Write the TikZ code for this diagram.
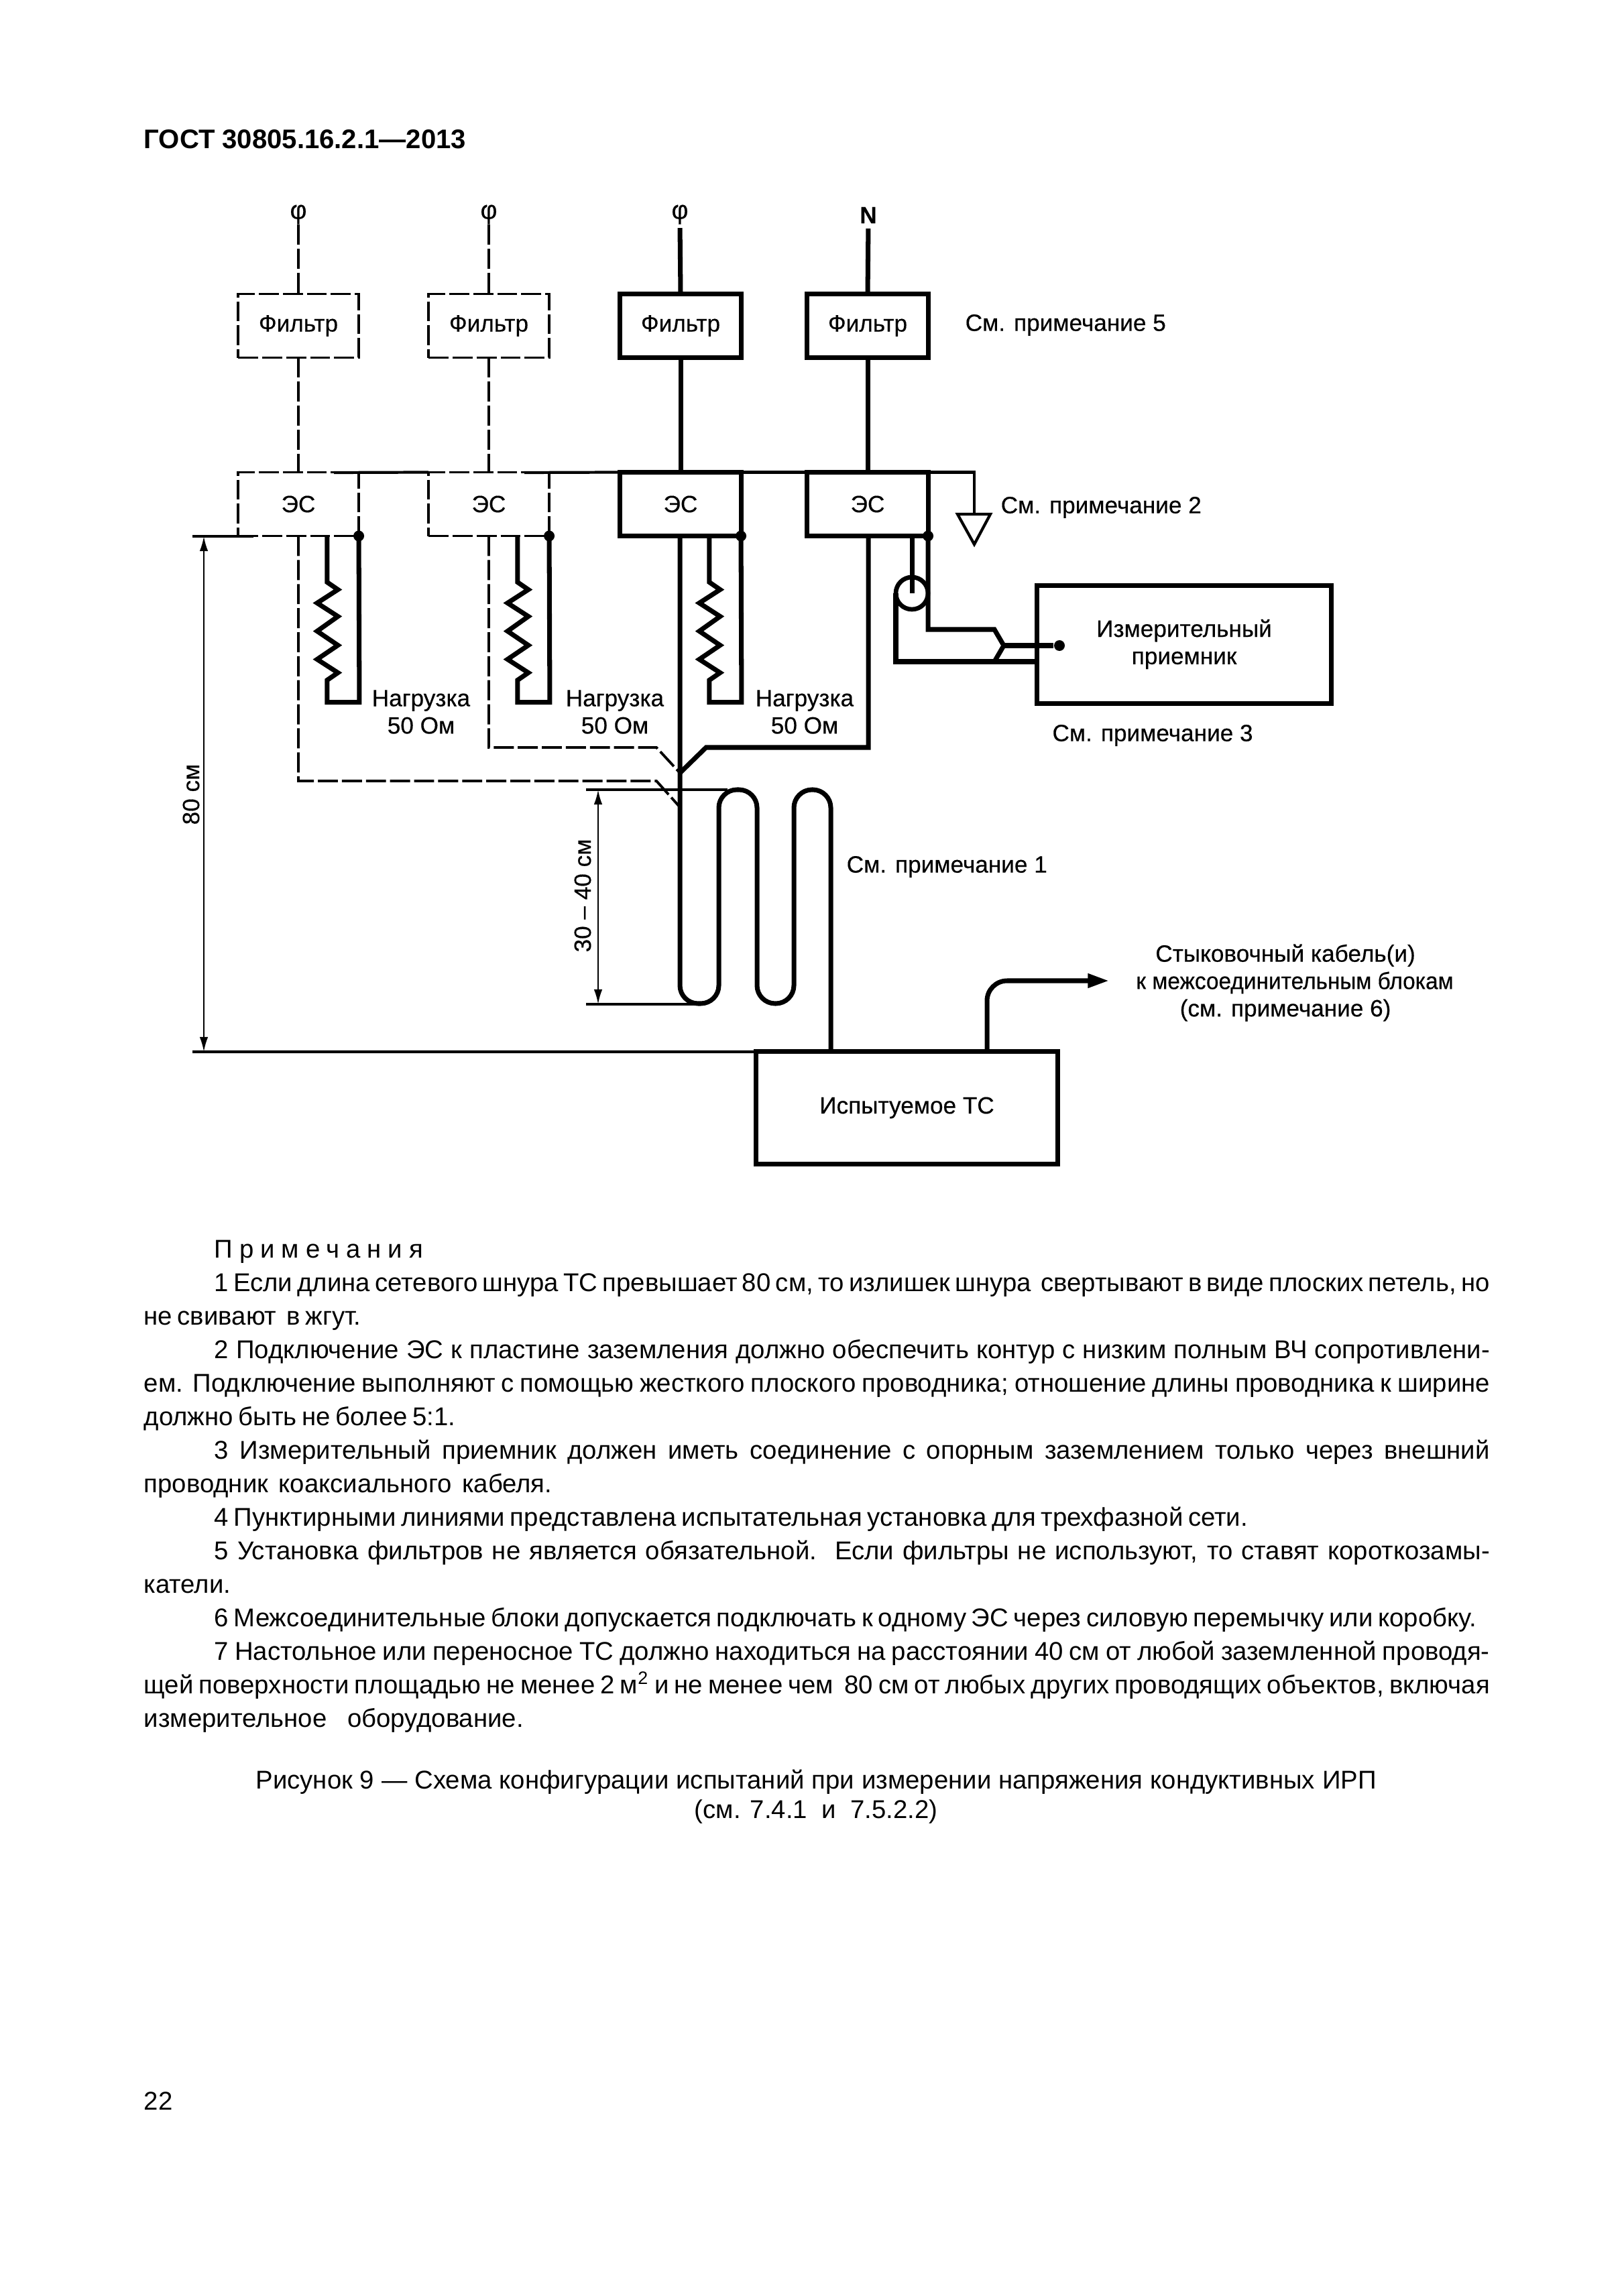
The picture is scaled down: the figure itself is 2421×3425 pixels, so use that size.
\documentclass[tikz,border=0pt]{standalone}
\usepackage{fontspec}
\setmainfont{Liberation Sans}
\newfontfamily\labfont{Liberation Sans}[FakeBold=0.4]
\usetikzlibrary{arrows.meta, positioning, calc}

\tikzset{
  box/.style={draw, rectangle, line width=2pt, outer sep=0pt, inner sep=0pt,
    minimum width=1.8cm, minimum height=0.95cm, font=\lab},
  dashbox/.style={box, line width=1.1pt, dash pattern=on 8.5pt off 1.7pt},
  wire/.style={line width=2pt},
  thinwire/.style={line width=1.2pt},
  dashwire/.style={line width=1.1pt, dash pattern=on 8.5pt off 1.7pt},
  dimline/.style={line width=0.7pt, {Latex[length=6.3pt,width=3.6pt]}-{Latex[length=6.3pt,width=3.6pt]}},
  dotmark/.style={circle, fill=black, inner sep=0pt, minimum size=0.16cm},
  labeltext/.style={inner sep=0pt, align=center, font=\lab},
  phase/.style={inner sep=0pt, font=\labfont\fontsize{11}{11}\selectfont}
}
\newcommand{\lab}{\labfont\fontsize{10}{11.6}\selectfont}
\newcommand{\notepar}{\par\hspace*{1.05cm}}

\begin{document}
\begin{tikzpicture}[x=0.01cm, y=-0.01cm]
  \useasboundingbox (0,0) rectangle (2421,3425);

  \node[inner sep=0pt, anchor=west, font=\fontsize{11.4}{14}\selectfont\bfseries] (header) at (214,208) {ГОСТ 30805.16.2.1—2013};

  % filters
  \node[dashbox] (filter1) at (445,486) {Фильтр};
  \node[dashbox] (filter2) at (729,486) {Фильтр};
  \node[box] (filter3) at (1015,486) {Фильтр};
  \node[box] (filter4) at (1294,486) {Фильтр};

  % es boxes
  \node[dashbox] (es1) at (445,752) {ЭС};
  \node[dashbox] (es2) at (729,752) {ЭС};
  \node[box] (es3) at (1015,752) {ЭС};
  \node[box] (es4) at (1294,752) {ЭС};

  % inputs
  \node[phase] (phi1) at (445,320) {φ};
  \node[phase] (phi2) at (729,320) {φ};
  \node[phase] (phi3) at (1014,320) {φ};
  \node[labeltext] (neutral) at (1295,321) {\bfseries N};
  \draw[dashwire] (phi1.south) -- (filter1.north);
  \draw[dashwire] (phi2.south) -- (filter2.north);
  \draw[wire, shorten <=0.05cm] (phi3.south) -- (filter3.north);
  \draw[wire, shorten <=0.07cm] (neutral.south) -- (filter4.north);
  \draw[dashwire] (filter1.south) -- (es1.north);
  \draw[dashwire] (filter2.south) -- (es2.north);
  \draw[wire] (filter3.south) -- (es3.north);
  \draw[wire] (filter4.south) -- (es4.north);

  % ground bar
  \coordinate (gnd) at (1453,767);
  \draw[thinwire] (498,705) -- (es2.north west);
  \draw[thinwire] (782,705) -- (es3.north west);
  \draw[thinwire] (es3.north east) -- (es4.north west);
  \draw[thinwire] (es4.north east) -| (gnd);
  \draw[thinwire] (1428,767) -- (1477,767) -- (1453,812) -- cycle;

  % loads
  \draw[wire] (es1.south west) ++(133,0) -- ++(0,69) -- ++(16,11) -- ++(-31,20) -- ++(31,20) -- ++(-31,22)
    -- ++(31,21) -- ++(-31,21) -- ++(31,20) -- ++(-16,11) -- ++(0,33) -- ++(48,0) -- (es1.south east);
  \draw[wire] (es2.south west) ++(133,0) -- ++(0,69) -- ++(16,11) -- ++(-31,20) -- ++(31,20) -- ++(-31,22)
    -- ++(31,21) -- ++(-31,21) -- ++(31,20) -- ++(-16,11) -- ++(0,33) -- ++(48,0) -- (es2.south east);
  \draw[wire] (es3.south west) ++(133,0) -- ++(0,69) -- ++(16,11) -- ++(-31,20) -- ++(31,20) -- ++(-31,22)
    -- ++(31,21) -- ++(-31,21) -- ++(31,20) -- ++(-16,11) -- ++(0,33) -- ++(48,0) -- (es3.south east);
  \node[dotmark] (dot1) at (es1.south east) {};
  \node[dotmark] (dot2) at (es2.south east) {};
  \node[dotmark] (dot3) at (es3.south east) {};
  \node[dotmark] (dot4) at (es4.south east) {};
  \node[labeltext] (load1) at (628,1062) {Нагрузка\\50 Ом};
  \node[labeltext] (load2) at (917,1062) {Нагрузка\\50 Ом};
  \node[labeltext] (load3) at (1200,1062) {Нагрузка\\50 Ом};

  % device under test
  \node[box, minimum width=4.49cm, minimum height=1.67cm] (tc) at (1352.5,1652.5) {Испытуемое ТС};

  % cord with loops
  \coordinate (join1) at (1014,1153);
  \coordinate (join2) at (1014,1204);
  \draw[wire, rounded corners=0.27cm] (es3.south -| 1014,0) -- (1014,1497) -- (1072,1497) -- (1072,1178) -- (1129,1178)
    -- (1129,1497) -- (1184,1497) -- (1184,1178) -- (1239,1178) -- (1239,1178 |- tc.north);
  \draw[wire] (es4.south -| 1295,0) |- (1053,1115) -- (join1);
  \draw[dashwire] (es2.south) |- (979,1115) -- (join1);
  \draw[dashwire] (es1.south) |- (979,1165) -- (join2);

  % receiver
  \node[box, minimum width=4.38cm, minimum height=1.75cm] (rcv) at (1766,961.5) {};
  \node[labeltext] (rcvtext) at (1766,961) {Измерительный\\приемник};
  \node[circle, draw, line width=1.9pt, inner sep=0pt, outer sep=0pt, minimum size=0.48cm] (coax) at (1360,885) {};
  \coordinate (tee) at (1497,963);
  \node[dotmark] (rcvdot) at (1580,963) {};
  \draw[wire] (coax.center |- es4.south) -- (coax.center);
  \draw[wire] (es4.south east) |- (1483,939) -- (tee) -- (1483,987);
  \draw[wire] (coax.west) |- (rcv.west |- 0,987);
  \draw[wire] (tee) -- (rcvdot);

  % dimensions
  \coordinate (top80) at (287,800);
  \coordinate (bot80) at (287,1569);
  \coordinate (top30) at (874,1178);
  \coordinate (bot30) at (874,1498);
  \draw[thinwire] (top80) -- (378,800);
  \draw[thinwire] (bot80) -- (tc.north west);
  \draw[thinwire] (top30) -- (1085,1178);
  \draw[thinwire] (bot30) -- (1043,1498);
  \draw[dimline] (304,800) -- (304,1569);
  \draw[dimline] (892,1178) -- (892,1498);
  \node[labeltext, rotate=90] (dim80) at (285,1185) {80 см};
  \node[labeltext, rotate=90] (dim30) at (869,1336) {30 – 40 см};

  % cable to blocks
  \node[labeltext] (cable) at (1917,1466) {Стыковочный кабель(и)\\\hspace*{0.28cm}\scalebox{0.95}[1]{к межсоединительным блокам}\\(см. примечание 6)};
  \coordinate (cabletip) at (1654,1463);
  \draw[wire, rounded corners=0.3cm, -{Triangle[length=9pt,width=5.7pt]}] (tc.north -| 1472,0) |- (cabletip);

  % notes on the figure
  \node[labeltext, anchor=west] (note5) at (1439,485) {См. примечание 5};
  \node[labeltext, anchor=west] (note2) at (1492,757) {См. примечание 2};
  \node[labeltext] (note3) at (1719,1097) {См. примечание 3};
  \node[labeltext, anchor=west] (note1) at (1262,1293) {См. примечание 1};

  % text under the figure
  \node[inner sep=0pt, anchor=north west, text width=20.06cm, align=justify,
    font=\fontsize{10.9}{14.23}\selectfont] (notes) at (214,1849) {%
    \spaceskip=0.2em plus 0.6em minus 0.04em \tolerance=9999
    \hspace*{1.05cm}{\addfontfeatures{LetterSpace=26}Примечания}
    \notepar 1 Если длина сетевого шнура ТС превышает 80 см, то излишек шнура~~свертывают в виде плоских петель, но\linebreak
    не свивают~~в жгут.
    \notepar 2 Подключение ЭС к пластине заземления должно обеспечить контур с низким полным ВЧ сопротивлени-\linebreak
    ем. Подключение выполняют с помощью жесткого плоского проводника; отношение длины проводника к ширине\linebreak
    должно быть не более 5:1.
    \notepar 3 Измерительный приемник должен иметь соединение с опорным заземлением только через внешний\linebreak
    проводник~~коаксиального~~кабеля.
    \notepar 4 Пунктирными линиями представлена испытательная установка для трехфазной сети.
    \notepar 5 Установка фильтров не является обязательной. Если фильтры не используют, то ставят короткозамы-\linebreak
    катели.
    \notepar 6 Межсоединительные блоки допускается подключать к одному ЭС через силовую перемычку или коробку.
    \notepar 7 Настольное или переносное ТС должно находиться на расстоянии 40 см от любой заземленной проводя-\linebreak
    щей поверхности площадью не менее 2 м\textsuperscript{2} и не менее чем~~80 см от любых других проводящих объектов, включая\linebreak
    измерительное~~~~оборудование.
  };
  \node[inner sep=0pt, align=center, font=\fontsize{10.9}{14.23}\selectfont] (caption) at (1217,2680) {%
    \makebox[16.7cm][s]{Рисунок 9 — Схема конфигурации испытаний при измерении напряжения кондуктивных ИРП}\\[-1.7pt]
    (см. 7.4.1~~и~~7.5.2.2)};
  \node[inner sep=0pt, anchor=west, font=\fontsize{10.9}{14}\selectfont] (pagenum) at (214,3134) {22};
\end{tikzpicture}
\end{document}
